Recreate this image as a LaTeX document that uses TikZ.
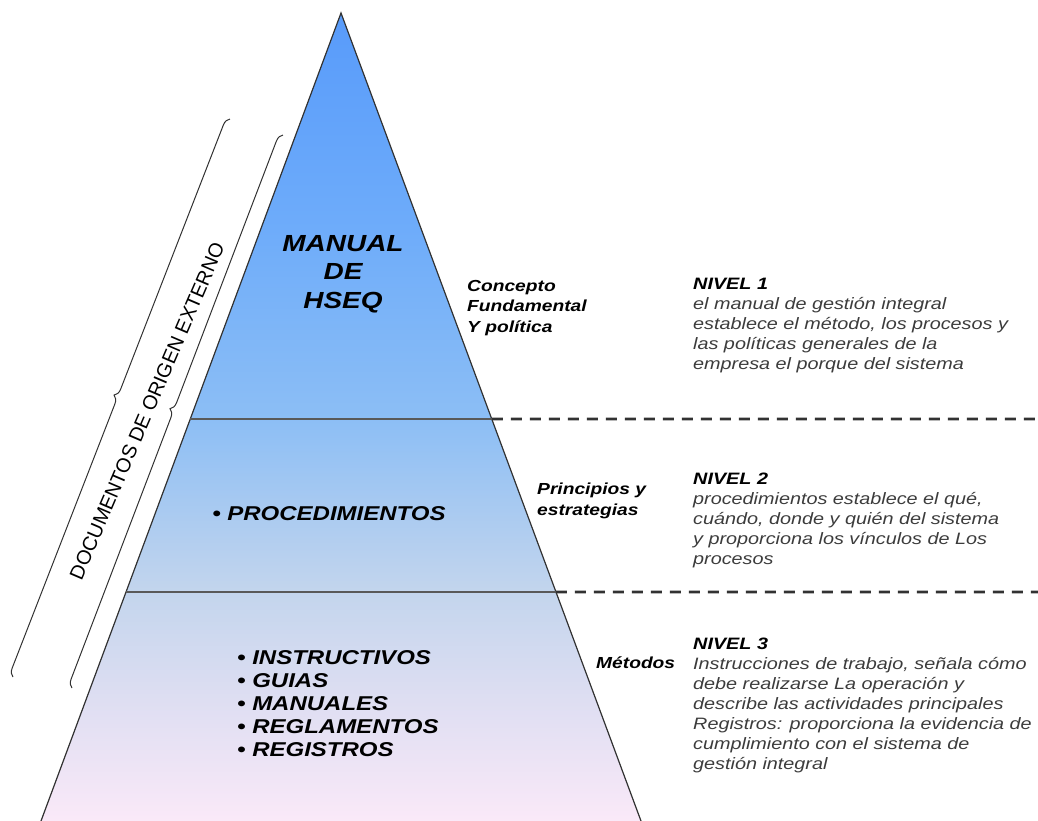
\documentclass[tikz,border=0pt]{standalone}
\usepackage{fontspec}
\setmainfont{Liberation Sans}[FakeStretch=1.2]
\newfontfamily\extfont{Liberation Sans}
\usepackage{tikz}
\usetikzlibrary{calc,decorations.pathreplacing}

\definecolor{desctext}{RGB}{60,60,60}
\definecolor{edgegray}{RGB}{50,50,50}
\pgfdeclareverticalshading{hseqshade}{100bp}{%
  color(0bp)=(rgb,255:red,250;green,233;blue,248);
  color(25bp)=(rgb,255:red,250;green,233;blue,248);
  color(32.5bp)=(rgb,255:red,222;green,222;blue,242);
  color(39.2bp)=(rgb,255:red,195;green,213;blue,237);
  color(49.9bp)=(rgb,255:red,140;green,190;blue,245);
  color(61.6bp)=(rgb,255:red,110;green,172;blue,250);
  color(75bp)=(rgb,255:red,88;green,155;blue,250);
  color(100bp)=(rgb,255:red,88;green,155;blue,250)}

\tikzset{
  levelname/.style={anchor=west, inner sep=0pt, align=left,
    font=\fontsize{16}{20.5}\selectfont\bfseries\itshape},
  leveldesc/.style={anchor=west, inner sep=0pt, align=left, text=desctext,
    font=\fontsize{16.5}{20}\selectfont\itshape},
  doctype/.style={inner sep=0pt, align=left,
    font=\fontsize{20}{23}\selectfont\bfseries\itshape},
  levelsep/.style={draw=gray!70!black, line width=1.5pt},
  leveldash/.style={draw=edgegray, line width=2.6pt, dash pattern=on 11pt off 8pt},
  sidebrace/.style={draw=edgegray, line width=1pt, decorate,
    decoration={brace, amplitude=8pt}}
}

\begin{document}
\begin{tikzpicture}[x=1pt, y=-1pt]
    \useasboundingbox (0,0) rectangle (1038,821);

    % piramide
    \coordinate (apex) at (341,13);
    \coordinate (bl) at (41,821);
    \coordinate (br) at (641,821);
    \fill[shading=hseqshade] (apex) -- (br) -- (bl) -- cycle;
    \draw[edgegray, line width=1.2pt] (bl) -- (apex) -- (br);

    \coordinate (l1) at ($(apex)!0.5025!(bl)$);
    \coordinate (r1) at ($(apex)!0.5025!(br)$);
    \coordinate (l2) at ($(apex)!0.7166!(bl)$);
    \coordinate (r2) at ($(apex)!0.7166!(br)$);
    \coordinate (e1) at (1038,419);
    \coordinate (e2) at (1038,592);
    \draw[levelsep] (l1) -- (r1);
    \draw[levelsep] (l2) -- (r2);
    \draw[leveldash] (r1) -- (e1);
    \draw[leveldash] (r2) -- (e2);

    % contenido de cada nivel
    \node[doctype, align=center, font=\fontsize{23.3}{28.5}\selectfont\bfseries\itshape]
      (manual) at (343,274) {MANUAL\\DE\\HSEQ};
    \node[doctype] (proc) at (329,514) {• PROCEDIMIENTOS};
    \node[doctype, anchor=west] (docs) at (237,704)
      {• INSTRUCTIVOS\\• GUIAS\\• MANUALES\\• REGLAMENTOS\\• REGISTROS};

    \node[levelname] (concepto) at (467,308) {Concepto\\Fundamental\\Y política};
    \node[levelname] (principios) at (537,501) {Principios y\\estrategias};
    \node[levelname] (metodos) at (596,663) {Métodos};

    \node[leveldesc] (nivel1) at (693,325.5) {\textcolor{black}{\bfseries NIVEL 1}\\
      el manual de gestión integral\\
      establece el método, los procesos y\\
      las políticas generales de la\\
      empresa el porque del sistema};
    \node[leveldesc] (nivel2) at (693,520.5) {\textcolor{black}{\bfseries NIVEL 2}\\
      procedimientos establece el qué,\\
      cuándo, donde y quién del sistema\\
      y proporciona los vínculos de Los\\
      procesos};
    \node[leveldesc] (nivel3) at (693,705.5) {\textcolor{black}{\bfseries NIVEL 3}\\
      Instrucciones de trabajo, señala cómo\\
      debe realizarse La operación y\\
      describe las actividades principales\\
      Registros: proporciona la evidencia de\\
      cumplimiento con el sistema de\\
      gestión integral};

    % documentos externos
    \coordinate (outerlo) at (13,677);
    \coordinate (outerhi) at (230,119);
    \coordinate (innerlo) at (72,688);
    \coordinate (innerhi) at (283,135);
    \draw[sidebrace] (outerlo) -- (outerhi);
    \draw[sidebrace] (innerlo) -- (innerhi);
    \node[rotate=66.8, inner sep=0pt, font=\extfont\fontsize{20}{20}\selectfont]
      (externo) at (147,411) {DOCUMENTOS DE ORIGEN EXTERNO};
\end{tikzpicture}
\end{document}
